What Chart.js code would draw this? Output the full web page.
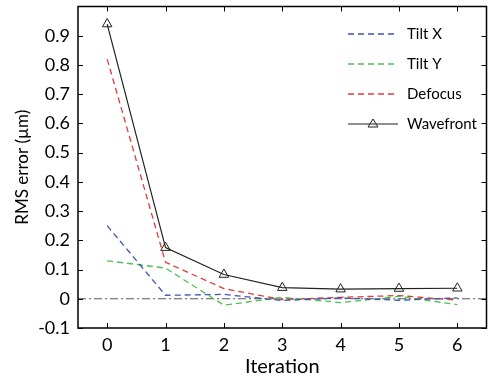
<!DOCTYPE html>
<html><head><meta charset="utf-8">
<script src="https://cdn.jsdelivr.net/npm/chart.js@4.4.0/dist/chart.umd.min.js"></script>
<style>html,body{margin:0;padding:0;background:#fff}#wrap{width:493px;height:381px}</style>
</head><body><div id="wrap"><canvas id="c" width="493" height="381"></canvas></div>
<script>
const iterations = [0, 1, 2, 3, 4, 5, 6];
const tiltX = [0.25, 0.012, 0.015, -0.006, 0.003, -0.005, 0.003];
const tiltY = [0.13, 0.105, -0.022, 0.005, -0.013, 0.008, -0.02];
const defocus = [0.82, 0.125, 0.035, -0.003, 0.005, 0.011, -0.005];
const wavefront = [0.94, 0.175, 0.083, 0.038, 0.033, 0.035, 0.036];
const xTicks = [0, 1, 2, 3, 4, 5, 6];
const yTicks = [-0.1, 0, 0.1, 0.2, 0.3, 0.4, 0.5, 0.6, 0.7, 0.8, 0.9];
const labels = ['Tilt X', 'Tilt Y', 'Defocus', 'Wavefront'];

const FONT = 'Lato, "Open Sans", sans-serif';
const pts = arr => arr.map((v, i) => ({x: iterations[i], y: v}));

const frame = {
  id: 'frame',
  afterDatasetsDraw(chart) {
    const {ctx, chartArea: a, scales} = chart;
    ctx.save();
    ctx.strokeStyle = '#000'; ctx.lineWidth = 1.5;
    ctx.strokeRect(a.left, a.top, a.right - a.left, a.bottom - a.top);
    ctx.lineWidth = 1;
    const L = 5;
    ctx.beginPath();
    xTicks.forEach(v => {
      const x = Math.round(scales.x.getPixelForValue(v)) + 0.5;
      ctx.moveTo(x, a.bottom); ctx.lineTo(x, a.bottom - L);
      ctx.moveTo(x, a.top); ctx.lineTo(x, a.top + L);
    });
    yTicks.forEach(v => {
      const y = Math.round(scales.y.getPixelForValue(v)) + 0.5;
      ctx.moveTo(a.left, y); ctx.lineTo(a.left + L, y);
      ctx.moveTo(a.right, y); ctx.lineTo(a.right - L, y);
    });
    ctx.stroke();
    // legend
    const ds = chart.data.datasets;
    const x0 = 348, x1 = 398, tx = 407;
    const rows = [34, 64, 94, 124];
    ctx.font = '15px ' + FONT;
    ctx.textBaseline = 'middle';
    ctx.fillStyle = '#000';
    for (let i = 0; i < 4; i++) {
      const d = ds[i];
      const y = rows[i];
      ctx.save();
      ctx.strokeStyle = d.borderColor; ctx.lineWidth = d.borderWidth;
      ctx.setLineDash(d.borderDash || []);
      ctx.beginPath(); ctx.moveTo(x0, y); ctx.lineTo(x1, y); ctx.stroke();
      ctx.restore();
      if (i === 3) {
        const cx = (x0 + x1) / 2, r = 5;
        ctx.save();
        ctx.fillStyle = '#fff';
        ctx.strokeStyle = d.borderColor; ctx.lineWidth = 1;
        ctx.beginPath();
        ctx.moveTo(cx, y - r); ctx.lineTo(cx + r, y + r * 0.6); ctx.lineTo(cx - r, y + r * 0.6); ctx.closePath();
        ctx.stroke();
        ctx.restore();
      }
      ctx.fillText(labels[i], tx, y);
    }
    ctx.restore();
  }
};

const noPad = s => { s.paddingTop = 0; s.paddingBottom = 0; s.paddingLeft = 0; s.paddingRight = 0; };

new Chart(document.getElementById('c'), {
  type: 'line',
  data: {
    datasets: [
      {label: labels[0], data: pts(tiltX), borderColor: '#3d52b5', borderWidth: 1.3, borderDash: [6, 4], pointRadius: 0, fill: false, tension: 0},
      {label: labels[1], data: pts(tiltY), borderColor: '#4cc24a', borderWidth: 1.3, borderDash: [6, 4], pointRadius: 0, fill: false, tension: 0},
      {label: labels[2], data: pts(defocus), borderColor: '#e23a3a', borderWidth: 1.3, borderDash: [6, 4], pointRadius: 0, fill: false, tension: 0},
      {label: labels[3], data: pts(wavefront), borderColor: '#222', borderWidth: 1.2, pointStyle: 'triangle', pointRadius: 5.5, pointBorderWidth: 1, pointBorderColor: '#222', pointBackgroundColor: 'rgba(255,255,255,0)', fill: false, tension: 0},
      {label: 'zero', data: [{x: -0.5, y: 0}, {x: 6.5, y: 0}], borderColor: '#555', borderWidth: 1.2, borderDash: [8, 3, 2, 3], pointRadius: 0, fill: false}
    ]
  },
  options: {
    responsive: false, animation: false, devicePixelRatio: 1,
    layout: {padding: {top: 5, right: 6, left: 0, bottom: 0}},
    plugins: {legend: {display: false}, tooltip: {enabled: false}},
    scales: {
      x: {
        type: 'linear', min: -0.5, max: 6.5,
        afterBuildTicks: s => { s.ticks = xTicks.map(v => ({value: v})); },
        afterFit: s => { s.height = 53; noPad(s); },
        grid: {display: false, drawTicks: false}, border: {display: false},
        ticks: {color: '#000', font: {family: FONT, size: 18}, padding: 6, maxRotation: 0, callback: v => String(v)},
        title: {display: true, text: 'Iteration', color: '#000', font: {family: FONT, size: 20}, padding: {top: 0, bottom: 2}}
      },
      y: {
        type: 'linear', min: -0.1, max: 1.0,
        afterBuildTicks: s => { s.ticks = yTicks.map(v => ({value: v})); },
        afterFit: s => { s.width = 78; noPad(s); },
        grid: {display: false, drawTicks: false}, border: {display: false},
        ticks: {color: '#000', font: {family: FONT, size: 18}, padding: 8, callback: v => Math.abs(v) < 1e-9 ? '0' : v.toFixed(1)},
        title: {display: true, text: 'RMS error (µm)', color: '#000', font: {family: FONT, size: 17}, padding: {top: 12, bottom: 2}}
      }
    }
  },
  plugins: [frame]
});
</script></body></html>
